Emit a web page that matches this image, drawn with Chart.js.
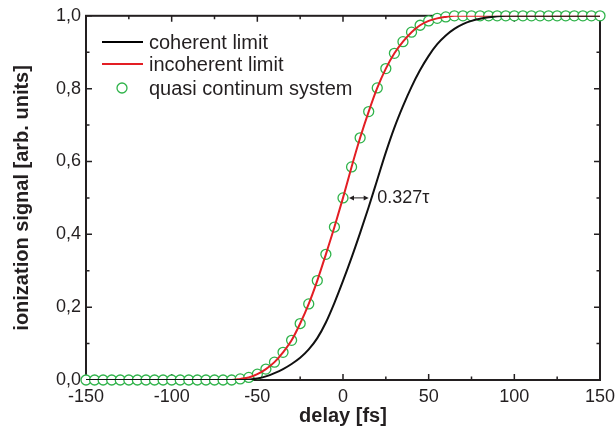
<!DOCTYPE html>
<html>
<head>
<meta charset="utf-8">
<script src="https://cdn.jsdelivr.net/npm/chart.js@4"></script>
<style>
html,body{margin:0;padding:0;background:#fff;}
canvas{display:block;}
</style>
</head>
<body>
<canvas id="c" width="615" height="430"></canvas>
<script>
// ---- data ----
const delays = [-150,-145,-140,-135,-130,-125,-120,-115,-110,-105,-100,-95,-90,-85,-80,-75,-70,-65,
  -60,-55,-50,-45,-40,-35,-30,-25,-20,-15,-10,-5,0,5,10,15,20,25,30,35,40,45,50,55,60,
  65,70,75,80,85,90,95,100,105,110,115,120,125,130,135,140,145,150];

const coherent = [0,0,0,0,0,0,0,0,0,0,0,0,0,0,0,0,0,0,
  0,0.001,0.004,0.010,0.019,0.030,0.044,0.061,0.084,0.115,0.158,0.212,0.272,0.336,0.404,0.475,0.550,0.625,0.693,0.752,0.805,0.851,0.890,0.922,0.946,
  0.964,0.977,0.986,0.992,0.996,0.999,1,1,1,1,1,1,1,1,1,1,1,1];

const incoherent = [0,0,0,0,0,0,0,0,0,0,0,0,0,0,0,0,0,0,
  0.003,0.007,0.016,0.030,0.049,0.076,0.109,0.155,0.209,0.273,0.345,0.420,0.500,0.585,0.665,0.737,0.802,0.855,0.897,0.929,0.955,0.974,0.986,0.993,0.997,
  1,1,1,1,1,1,1,1,1,1,1,1,1,1,1,1,1,1];

const quasi = incoherent.slice();

const seriesNames = ['coherent limit','incoherent limit','quasi continum system'];
const xTicks = [-150,-100,-50,0,50,100,150];
const yTicks = [0,0.2,0.4,0.6,0.8,1.0];
const arrowFrom = [3.5, 0.5];
const arrowTo = [15, 0.5];
const arrowLabel = '0.327\u03C4';
const arrowLabelAt = [20, 0.5];

const FONT = '"Liberation Sans", Arial, Helvetica, sans-serif';
const GREEN = '#2fb34a';
const RED = '#e31e24';
const INK = '#231f20';

const pts = arr => delays.map((d,i)=>({x:d, y:arr[i]}));

const framePlugin = {
  id:'frame',
  beforeDatasetsDraw(chart){
    const {ctx, chartArea:a, scales:{x,y}} = chart;
    ctx.save();
    ctx.strokeStyle = INK;
    ctx.lineWidth = 1.5;
    for (let v=-150; v<=150; v+=25){
      const px = x.getPixelForValue(v);
      const len = (v % 50 === 0) ? 6 : 3.5;
      ctx.beginPath();
      ctx.moveTo(px, a.bottom); ctx.lineTo(px, a.bottom-len);
      ctx.moveTo(px, a.top); ctx.lineTo(px, a.top+len);
      ctx.stroke();
    }
    for (let k=0; k<=10; k++){
      const v = k/10;
      const py = y.getPixelForValue(v);
      const len = (k % 2 === 0) ? 6 : 3.5;
      ctx.beginPath();
      ctx.moveTo(a.left, py); ctx.lineTo(a.left+len, py);
      ctx.moveTo(a.right, py); ctx.lineTo(a.right-len, py);
      ctx.stroke();
    }
    ctx.lineWidth = 2;
    ctx.strokeRect(a.left, a.top, a.right-a.left, a.bottom-a.top);
    ctx.restore();
  },
  afterDraw(chart){
    const {ctx, scales:{x,y}} = chart;
    ctx.save();
    const x1 = x.getPixelForValue(arrowFrom[0]), y1 = y.getPixelForValue(arrowFrom[1]);
    const x2 = x.getPixelForValue(arrowTo[0]), y2 = y.getPixelForValue(arrowTo[1]);
    ctx.strokeStyle = INK; ctx.fillStyle = INK; ctx.lineWidth = 1;
    ctx.beginPath(); ctx.moveTo(x1+3,y1); ctx.lineTo(x2-3,y2); ctx.stroke();
    ctx.beginPath(); ctx.moveTo(x1,y1); ctx.lineTo(x1+5,y1-2.5); ctx.lineTo(x1+5,y1+2.5); ctx.closePath(); ctx.fill();
    ctx.beginPath(); ctx.moveTo(x2,y2); ctx.lineTo(x2-5,y2-2.5); ctx.lineTo(x2-5,y2+2.5); ctx.closePath(); ctx.fill();
    ctx.font = '18px ' + FONT;
    ctx.textAlign = 'left'; ctx.textBaseline = 'middle';
    ctx.fillText(arrowLabel, x.getPixelForValue(arrowLabelAt[0]), y.getPixelForValue(arrowLabelAt[1]));
    const lx1 = 102, lx2 = 143, tx = 149, rows = [42, 64, 88];
    ctx.font = '20px ' + FONT;
    ctx.textBaseline = 'middle';
    ctx.lineWidth = 2;
    ctx.strokeStyle = '#000';
    ctx.beginPath(); ctx.moveTo(lx1, rows[0]); ctx.lineTo(lx2, rows[0]); ctx.stroke();
    ctx.strokeStyle = RED;
    ctx.beginPath(); ctx.moveTo(lx1, rows[1]); ctx.lineTo(lx2, rows[1]); ctx.stroke();
    ctx.strokeStyle = GREEN; ctx.lineWidth = 1.3; ctx.fillStyle = '#fff';
    ctx.beginPath(); ctx.arc(122, rows[2], 5, 0, Math.PI*2); ctx.fill(); ctx.stroke();
    ctx.fillStyle = INK;
    seriesNames.forEach((n,i)=> ctx.fillText(n, tx, rows[i]+1));
    ctx.restore();
  }
};

new Chart(document.getElementById('c'), {
  type:'line',
  data:{
    datasets:[
      {label:seriesNames[0], data:pts(coherent), borderColor:'#111', borderWidth:2, pointRadius:0, cubicInterpolationMode:'monotone', fill:false},
      {label:seriesNames[1], data:pts(incoherent), borderColor:RED, borderWidth:2, pointRadius:0, cubicInterpolationMode:'monotone', fill:false},
      {label:seriesNames[2], data:pts(quasi), showLine:false, pointRadius:5, pointBorderWidth:1.3, pointBorderColor:GREEN, pointBackgroundColor:'#fff', clip:false}
    ]
  },
  options:{
    responsive:false,
    devicePixelRatio:1,
    animation:false,
    layout:{padding:{left:0, right:15, top:15, bottom:0}},
    plugins:{legend:{display:false}, tooltip:{enabled:false}},
    scales:{
      x:{
        type:'linear', min:-150, max:150,
        afterBuildTicks(s){ s.ticks = xTicks.map(v=>({value:v})); },
        afterFit(s){ s.height = 50; s.paddingRight = 0; },
        grid:{display:false, drawTicks:false},
        border:{display:false},
        ticks:{font:{family:FONT, size:18}, color:INK, padding:6, maxRotation:0, callback:v=>String(v)},
        title:{display:true, text:'delay [fs]', font:{family:FONT, size:20, weight:'bold'}, color:INK, padding:{top:0,bottom:2}}
      },
      y:{
        type:'linear', min:0, max:1,
        afterBuildTicks(s){ s.ticks = yTicks.map(v=>({value:v})); },
        afterFit(s){ s.width = 86; },
        grid:{display:false, drawTicks:false},
        border:{display:false},
        ticks:{font:{family:FONT, size:18}, color:INK, padding:5, callback:v=>Number(v).toFixed(1).replace('.',',')},
        title:{display:true, text:'ionization signal [arb. units]', font:{family:FONT, size:20, weight:'bold'}, color:INK, padding:{top:10,bottom:0}}
      }
    }
  },
  plugins:[framePlugin]
});
</script>
</body>
</html>
